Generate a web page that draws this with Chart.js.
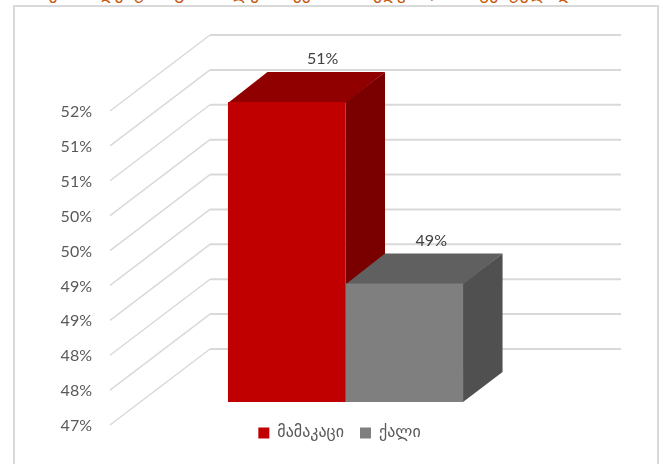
<!DOCTYPE html>
<html lang="ka">
  <head>
    <meta charset="UTF-8" />
    <title>რესპონდენტთა სქესი</title>
    <style>
      body,
      html {
        margin: 0;
        width: 663px;
        height: 464px;
        overflow: hidden;
        background: #fff;
      }
      .frame {
        position: absolute;
        left: 13px;
        top: 5px;
        width: 642px;
        height: 480px;
        border: 2px solid #d9d9d9;
      }
      .title {
        position: absolute;
        left: 0;
        top: -18px;
        width: 606px;
        text-align: center;
        white-space: nowrap;
        color: #c55a11;
        font: 18px "DejaVu Sans", sans-serif;
      }
      canvas {
        position: absolute;
        left: 0;
        top: 0;
      }
    </style>
  </head>
  <body>
    <div class="frame"></div>
    <div class="title">რესპონდენტთა განაწილება სქესის მიხედვით, პროცენტულად</div>
    <canvas id="myChart" width="663" height="464"></canvas>

    <script src="https://cdn.jsdelivr.net/npm/chart.js"></script>

    <script>
      // Dados
      const categories = [""];
      const seriesNames = ["მამაკაცი", "ქალი"];
      const seriesValues = [[51.3], [48.7]];
      const valueLabels = ["51%", "49%"];
      const tickLabels = ["47%", "48%", "48%", "49%", "49%", "50%", "50%", "51%", "51%", "52%"];

      // Cores: frente, topo, lado
      const frontColors = ["#c00000", "#900000", "#7a0000"];
      const greyColors = ["#7f7f7f", "#606060", "#505050"];

      // Perspectiva falsa
      const WALL = { x: 100, y: -76 };
      const BAR_SHIFT = { x: 30, y: -23 };
      const BAR_DEPTH = { x: 39.5, y: -30 };
      const LABEL_DX = [36, 27];

      function poly(ctx, color, pts) {
        ctx.fillStyle = color;
        ctx.beginPath();
        pts.forEach((p, i) => (i ? ctx.lineTo(p[0], p[1]) : ctx.moveTo(p[0], p[1])));
        ctx.closePath();
        ctx.fill();
      }

      const fake3d = {
        id: "fake3d",
        afterLayout(chart) {
          // a legenda fica sobre a base do gráfico, centrada nas barras
          const legend = chart.legend;
          legend.top = chart.chartArea.bottom - 16;
          legend.left += 79;
          legend.right += 79;
        },
        beforeDatasetsDraw(chart) {
          const { ctx, chartArea, scales } = chart;
          ctx.save();
          ctx.strokeStyle = "#d9d9d9";
          scales.y.ticks.forEach((t, i) => {
            const y = scales.y.getPixelForTick(i);
            ctx.lineWidth = 1.5;
            ctx.beginPath();
            ctx.moveTo(chartArea.left, y);
            ctx.lineTo(chartArea.left + WALL.x, y + WALL.y);
            ctx.stroke();
            ctx.lineWidth = 2;
            ctx.beginPath();
            ctx.moveTo(chartArea.left + WALL.x, y + WALL.y);
            ctx.lineTo(chartArea.right + WALL.x, y + WALL.y);
            ctx.stroke();
          });
          ctx.restore();

          // empurra as barras para dentro e desenha topo e lado
          ctx.save();
          ctx.translate(BAR_SHIFT.x, BAR_SHIFT.y);
          const d = BAR_DEPTH;
          [frontColors, greyColors].forEach((colors, i) => {
            const bar = chart.getDatasetMeta(i).data[0];
            const l = bar.x - bar.width / 2;
            const r = bar.x + bar.width / 2;
            poly(ctx, colors[2], [[r, bar.y], [r + d.x, bar.y + d.y], [r + d.x, bar.base + d.y], [r, bar.base]]);
            // 1px a mais embaixo, a frente cobre depois
            poly(ctx, colors[1], [[l, bar.y + 1], [r, bar.y + 1], [r + d.x, bar.y + d.y], [l + d.x, bar.y + d.y]]);
          });
        },
        afterDatasetsDraw(chart) {
          const { ctx } = chart;
          ctx.restore();
          ctx.save();
          ctx.fillStyle = "#404040";
          ctx.font = "16px Lato";
          ctx.textAlign = "center";
          ctx.textBaseline = "middle";
          valueLabels.forEach((label, i) => {
            const bar = chart.getDatasetMeta(i).data[0];
            ctx.fillText(label, bar.x + BAR_SHIFT.x + LABEL_DX[i], bar.y + BAR_SHIFT.y - 43);
          });
          ctx.restore();
        },
      };

      const config = {
        type: "bar",
        data: {
          labels: categories,
          datasets: [
            { label: seriesNames[0], data: seriesValues[0], backgroundColor: frontColors[0], clip: false, base: 47 },
            { label: seriesNames[1], data: seriesValues[1], backgroundColor: greyColors[0], clip: false, base: 47 },
          ],
        },
        options: {
          responsive: false,
          animation: false,
          layout: { padding: { top: 111, right: 142, bottom: -3, left: 0 } },
          datasets: { bar: { barPercentage: 1, categoryPercentage: 0.572 } },
          scales: {
            x: { display: false },
            y: {
              min: 47,
              max: 51.5,
              afterFit(scale) {
                scale.width = 110;
              },
              border: { display: false },
              grid: { display: false, drawTicks: false },
              ticks: {
                stepSize: 0.5,
                autoSkip: false,
                padding: 18,
                labelOffset: 1,
                color: "#595959",
                font: { family: "Lato", size: 16 },
                callback: (v, i) => tickLabels[i],
              },
            },
          },
          plugins: {
            title: { display: false },
            tooltip: { enabled: false },
            legend: {
              position: "bottom",
              labels: {
                boxWidth: 11,
                boxHeight: 11,
                padding: 16,
                color: "#595959",
                font: { family: "'DejaVu Sans'", size: 16 },
              },
            },
          },
        },
        plugins: [fake3d],
      };

      new Chart(document.getElementById("myChart").getContext("2d"), config);
    </script>
  </body>
</html>
